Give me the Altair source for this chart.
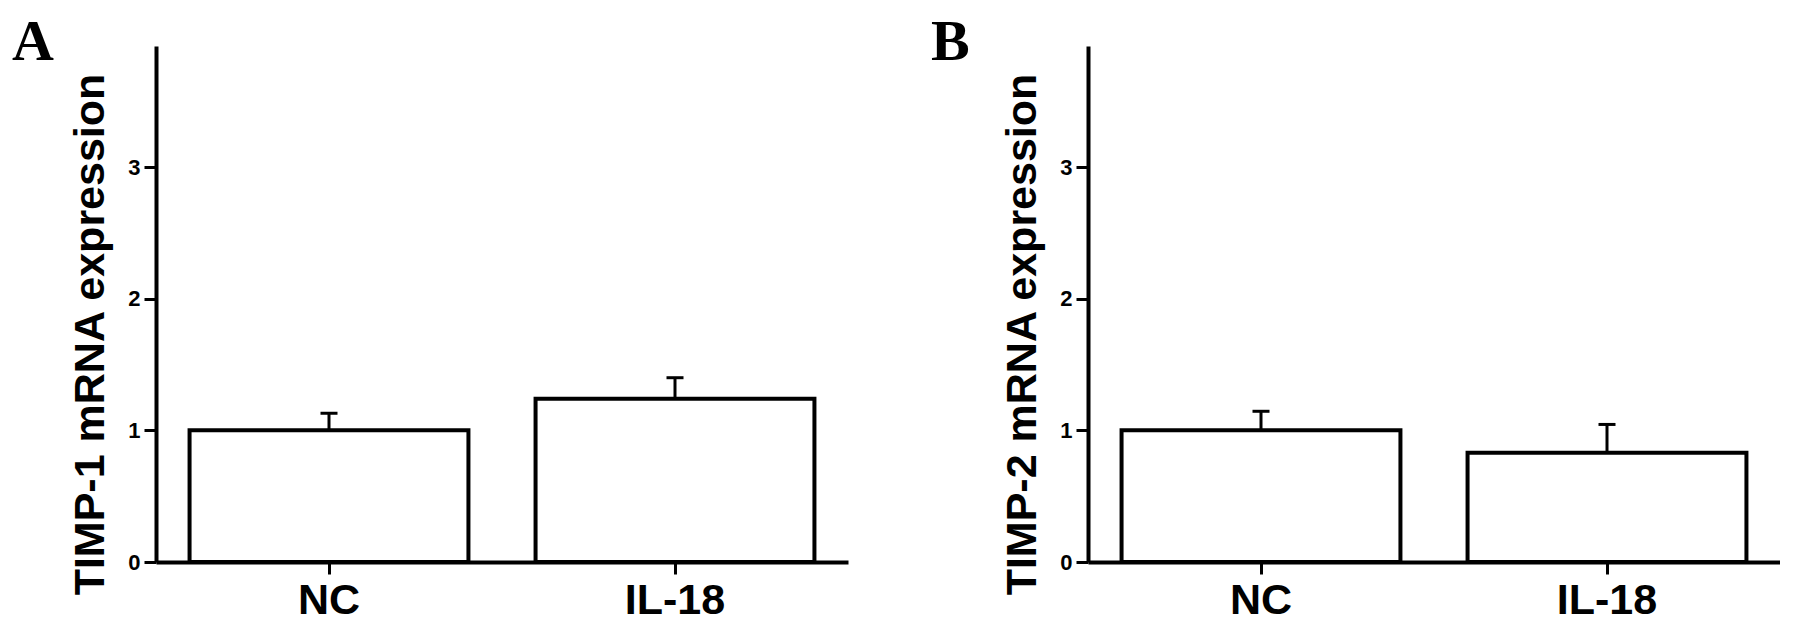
import altair as alt
import pandas as pd

# ---- data ----
groups = ["NC", "IL-18"]
timp1_mean = [1.00, 1.24]
timp1_err = [0.13, 0.16]
timp2_mean = [1.00, 0.83]
timp2_err = [0.145, 0.215]
y_ticks = [0, 1, 2, 3]
y_max = 3.92
panel_letters = ["A", "B"]
y_titles = ["TIMP-1 mRNA expression", "TIMP-2 mRNA expression"]

SANS = "Liberation Sans"
SERIF = "Liberation Serif"


def panel(means, errs, letter, ytitle, letter_x):
    df = pd.DataFrame({
        "group": groups,
        "mean": means,
        "upper": [m + e for m, e in zip(means, errs)],
    })
    xscale = alt.Scale(paddingInner=0.194, paddingOuter=0.097)
    xenc = alt.X(
        "group:N", sort=groups, scale=xscale,
        axis=alt.Axis(title=None, labelAngle=0, labelFontSize=43,
                      tickSize=12, labelPadding=5),
    )
    yscale = alt.Scale(domain=[0, y_max], nice=False)
    yenc = alt.Y(
        "mean:Q", scale=yscale,
        axis=alt.Axis(values=y_ticks, format="d", title=ytitle,
                      titleX=-44, titleY=288, titleAngle=270,
                      titleAlign="center", titleBaseline="bottom"),
    )
    base = alt.Chart(df)
    bars = base.mark_bar(fill="white", stroke="black", strokeWidth=4).encode(
        x=xenc, y=yenc
    )
    err = base.mark_rule(color="black", strokeWidth=3).encode(
        x=alt.X("group:N", sort=groups), y="mean:Q", y2="upper:Q"
    )
    cap = base.mark_tick(color="black", size=17, thickness=3, opacity=1).encode(
        x=alt.X("group:N", sort=groups), y="upper:Q"
    )
    lab = alt.Chart(pd.DataFrame({"t": [letter]})).mark_text(
        font=SERIF, fontWeight="bold", fontSize=58, align="left",
        baseline="alphabetic", color="black",
    ).encode(text="t:N", x=alt.value(letter_x), y=alt.value(14))
    return alt.layer(bars, err, cap, lab).properties(width=692, height=516)


pA = panel(timp1_mean, timp1_err, panel_letters[0], y_titles[0], -144)
pB = panel(timp2_mean, timp2_err, panel_letters[1], y_titles[1], -157)

chart = (
    alt.hconcat(pA, pB, spacing=83)
    .configure_axis(
        domainColor="black", domainWidth=4, tickColor="black", tickWidth=3,
        labelColor="black", labelFont=SANS, labelFontWeight="bold",
        labelFontSize=22, labelPadding=4, tickSize=12,
        titleFont=SANS, titleFontWeight="bold", titleFontSize=43,
        titleColor="black", grid=False,
    )
    .configure_view(stroke=None)
    .properties(padding={"left": 4, "top": 6, "right": 0, "bottom": 0},
                background="white")
)

chart.save("out.html", embed_options={"renderer": "svg", "actions": False})
